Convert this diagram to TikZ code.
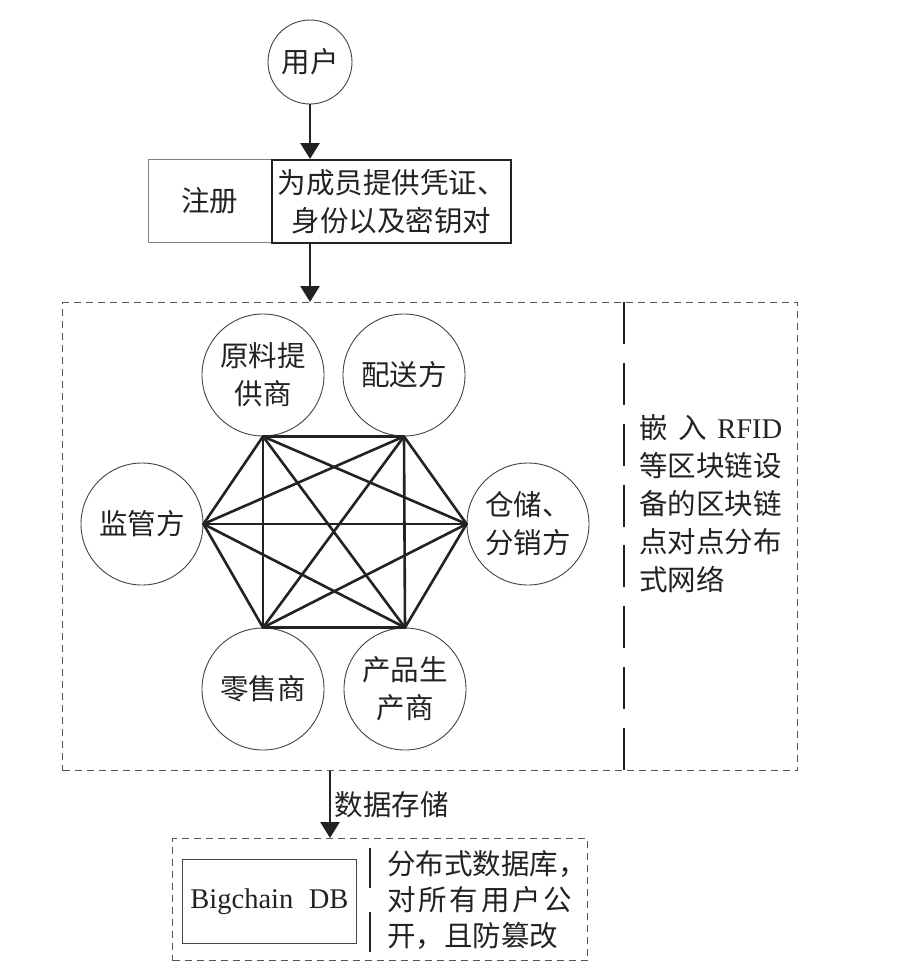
\documentclass[tikz,border=0pt]{standalone}
\usepackage{fontspec}
\setmainfont{Liberation Serif}
\newfontfamily\cjk{Noto Sans CJK SC}
\usetikzlibrary{arrows.meta}
\definecolor{ink}{HTML}{222222}
\definecolor{thingray}{HTML}{444444}
\definecolor{dashgray}{HTML}{555555}
\begin{document}
\begin{tikzpicture}[x=1pt,y=-1pt,
  txt/.style={font=\cjk\fontsize{28.5}{38}\selectfont, text=ink, align=center},
  party/.style={circle, draw=thingray, line width=0.9pt, minimum size=122pt, inner sep=0pt, txt},
  link/.style={line width=2.6pt, draw=ink, line cap=round},
  flow/.style={line width=2.6pt, draw=ink, -{Triangle[length=16pt,width=19pt]}},
  frame/.style={draw=dashgray, line width=1.2pt, dash pattern=on 7pt off 5pt, inner sep=0pt},
  divider/.style={draw=ink, line width=2.6pt, dash pattern=on 42pt off 18.86pt},
  divider2/.style={draw=ink, line width=2.6pt, dash pattern=on 40pt off 24pt}
]
\fill[white] (0,0) rectangle (923,972);
\useasboundingbox (0,0) rectangle (923,972);

% top
\node[party, minimum size=84pt] (user) at (310,62) {用户};
\node[draw=gray, line width=0.8pt, minimum width=123pt, minimum height=83pt, inner sep=0pt, txt, anchor=north west] (reg) at (148,159) {注册};
\node[draw=ink, line width=2.2pt, minimum width=239pt, minimum height=83pt, inner sep=0pt, txt, anchor=north west] (cred) at (271,159) {为成员提供凭证、\\身份以及密钥对};

% network frame
\node[frame, minimum width=735pt, minimum height=468pt, anchor=north west] (net) at (62,302) {};
\coordinate (dv) at (624,0);
\draw[divider] (net.north -| dv) -- (net.south -| dv);

% parties
\node[party] (raw) at (263,375) {原料提\\供商};
\node[party] (ship) at (404,375) {配送方};
\node[party] (super) at (142,524) {监管方};
\node[party] (ware) at (528,524) {仓储、\\分销方};
\node[party] (retail) at (263,689) {零售商};
\node[party] (maker) at (405,689) {产品生\\产商};

\coordinate (v1) at (raw.south);
\coordinate (v2) at (ship.south);
\coordinate (v3) at (ware.west);
\coordinate (v4) at (maker.north);
\coordinate (v5) at (retail.north);
\coordinate (v6) at (super.east);
\foreach \a/\b in {v1/v2,v1/v3,v1/v4,v1/v5,v1/v6,v2/v3,v2/v4,v2/v5,v2/v6,v3/v4,v3/v5,v3/v6,v4/v5,v4/v6,v5/v6}
  \draw[link] (\a) -- (\b);

\node[txt, align=left, anchor=north west, inner sep=0pt] (note) at (639,414)
  {\makebox[143pt][s]{嵌\hfill 入\hfill {\rmfamily RFID}}\\等区块链设\\备的区块链\\点对点分布\\式网络};

% database
\node[frame, minimum width=415pt, minimum height=122pt, anchor=north west] (dbbox) at (172,838) {};
\node[draw=thingray, line width=0.9pt, minimum width=174pt, minimum height=84pt, inner sep=0pt, anchor=north west, font=\fontsize{28.5}{34}\selectfont, text=ink] (db) at (182,859) {\makebox[158pt][s]{Bigchain\hfill DB}};
\draw[divider2] (370,848) -- (370,952);
\node[txt, font=\cjk\fontsize{28.5}{36}\selectfont, align=left, anchor=north west, inner sep=0pt] (dbnote) at (387,850)
  {分布式数据库，\\\makebox[185pt][s]{对\hfill 所\hfill 有\hfill 用\hfill 户\hfill 公}\\开，且防篡改};

% arrows
\draw[flow] (user.south) -- (user.south |- cred.north);
\draw[flow] (user.south |- cred.south) -- (net.north -| user.south);
\coordinate (ax) at (330,0);
\draw[flow] (net.south -| ax) -- node[right, txt] (store) {数据存储} (dbbox.north -| ax);
\end{tikzpicture}
\end{document}
